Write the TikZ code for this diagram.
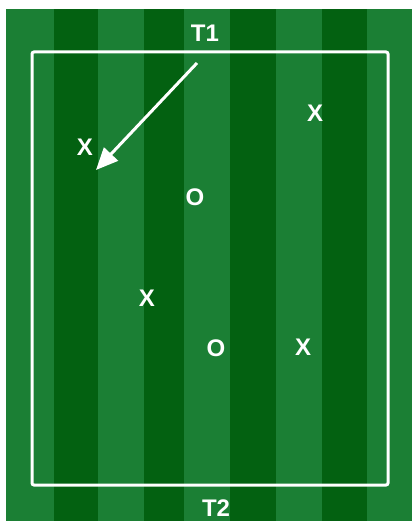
\documentclass[tikz,border=0pt]{standalone}
\usepackage{fontspec}
\setmainfont{Liberation Sans}
\usepackage{xcolor}
\usetikzlibrary{arrows.meta}

\definecolor{grasslight}{RGB}{27,127,52}
\definecolor{grassdark}{RGB}{3,97,17}

\begin{document}
\begin{tikzpicture}[x=1pt,y=-1pt,
    player/.style={text=white,font=\fontsize{24}{28}\selectfont\bfseries,inner sep=0pt},
    run/.style={draw=white,line width=3pt,-{Triangle[length=22pt,width=19pt]}}]
       \useasboundingbox (0,0) rectangle (412,521);
       % field
       \fill[grasslight] (6,9) rectangle (412,521);
       \foreach \a/\b in {54/98,144/184,230/276,322/367}
         \fill[grassdark] (\a,9) rectangle (\b,521);
       \draw[white,line width=3pt,rounded corners=2pt] (32,52) rectangle (388,485);

       \node[player] (t1) at (205,33) {T1};
       \node[player] (t2) at (216,508) {T2};
       \node[player] (x1) at (85,147) {X};
       \node[player] (x2) at (315,113) {X};
       \node[player] (x3) at (147,298) {X};
       \node[player] (x4) at (303,347) {X};
       \node[player] (o1) at (195,197) {O};
       \node[player] (o2) at (216,348) {O};

       \coordinate (from) at (197,63);
       \coordinate (to) at (96,170);
       \draw[run] (from) -- (to);
    \end{tikzpicture}
\end{document}
